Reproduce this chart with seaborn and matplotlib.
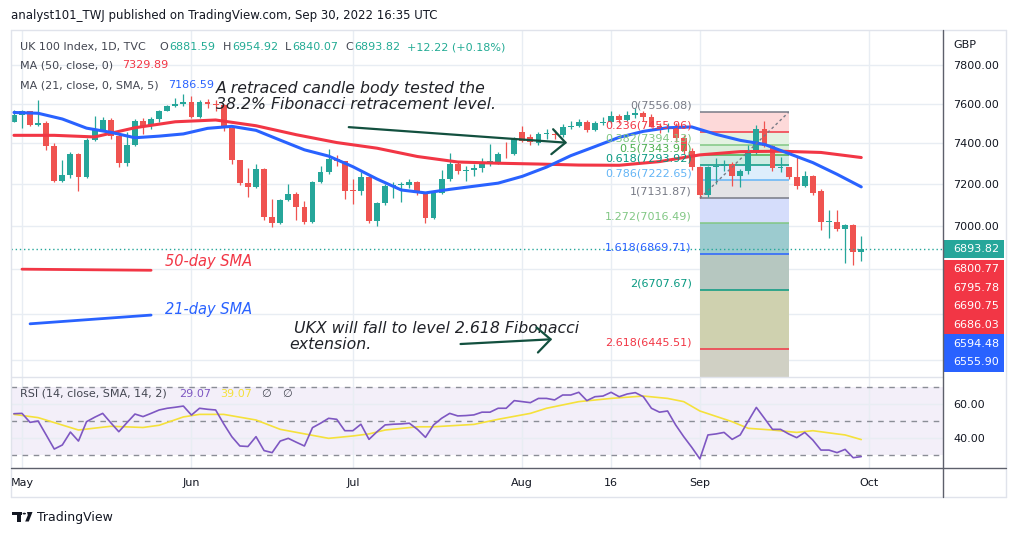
import numpy as np
import pandas as pd
import seaborn as sns
import matplotlib
matplotlib.use("Agg")
from matplotlib import pyplot as plt
from matplotlib.patches import Rectangle, Polygon, Circle
from matplotlib.lines import Line2D
from matplotlib.ticker import NullLocator, NullFormatter

sns.set_theme(style="white")
plt.rcParams["font.family"] = ["DejaVu Sans"]

# UK 100 daily bars, 29 Apr 2022 .. 30 Sep 2022 (one entry per trading day)
opens = [7509, 7544.55, 7561.33, 7493.45, 7503.27, 7387.94, 7216.58, 7243.22, 7347.66, 7233.34,
         7418.15, 7464.80, 7518.35, 7438.09, 7302.74, 7389.98, 7513.44, 7484.35, 7522.75, 7564.92,
         7585.46, 7600.06, 7607.66, 7532.95, 7608.22, 7598.93, 7593.00, 7476.21, 7317.52, 7205.81,
         7187.46, 7273.41, 7044.98, 7016.25, 7121.81, 7152.05, 7089.22, 7020.45, 7208.81, 7258.32,
         7323.41, 7312.32, 7169.28, 7168.65, 7232.65, 7025.47, 7107.77, 7189.08, 7196.24, 7196.59,
         7209.86, 7156.37, 7039.81, 7159.01, 7223.24, 7296.28, 7264.31, 7270.51, 7276.37, 7306.28,
         7306.30, 7348.34, 7345.31, 7455.00, 7430.00, 7400.00, 7445.68, 7448.06, 7439.74, 7482.37,
         7488.15, 7507.11, 7465.91, 7500.89, 7509.15, 7536.06, 7515.75, 7541.85, 7550.37, 7533.79,
         7488.11, 7471.51, 7479.74, 7427.31, 7361.63, 7284.15, 7148.50, 7281.19, 7287.43, 7300.44,
         7237.83, 7262.06, 7351.07, 7473.03, 7385.86, 7277.30, 7282.07, 7236.68, 7192.66, 7237.64,
         7168.00, 7018.60, 7020.95, 6984.59, 7005.39, 6881.59]
highs = [7570, 7570, 7565, 7620, 7510, 7400, 7320, 7355, 7352, 7428,
         7535, 7530, 7525, 7445, 7455, 7520, 7525, 7530, 7570, 7595,
         7630, 7650, 7640, 7620, 7622, 7620, 7600, 7480, 7320, 7280,
         7300, 7278, 7130, 7130, 7200, 7160, 7118, 7215, 7290, 7370,
         7340, 7315, 7225, 7260, 7240, 7115, 7200, 7210, 7210, 7225,
         7215, 7160, 7165, 7270, 7350, 7310, 7290, 7300, 7330, 7395,
         7355, 7405, 7430, 7485, 7445, 7455, 7470, 7465, 7495, 7510,
         7520, 7515, 7510, 7530, 7560, 7545, 7560, 7580, 7560, 7545,
         7500, 7500, 7500, 7440, 7375, 7290, 7290, 7330, 7320, 7310,
         7275, 7390, 7490, 7510, 7390, 7335, 7285, 7335, 7262, 7245,
         7175, 7075, 7075, 7010, 7010, 6954.92]
lows = [7505, 7478, 7485, 7485, 7365, 7210, 7212, 7230, 7165, 7230,
        7412, 7460, 7420, 7285, 7290, 7385, 7445, 7470, 7505, 7560,
        7585, 7590, 7525, 7525, 7580, 7565, 7460, 7300, 7195, 7140,
        7180, 7030, 6995, 7010, 7120, 7030, 7010, 7015, 7205, 7250,
        7290, 7130, 7107, 7150, 7015, 7000, 7100, 7135, 7115, 7180,
        7150, 7015, 7035, 7155, 7215, 7250, 7215, 7240, 7260, 7290,
        7300, 7330, 7340, 7405, 7390, 7390, 7420, 7420, 7430, 7470,
        7480, 7455, 7460, 7490, 7500, 7500, 7510, 7525, 7510, 7480,
        7450, 7455, 7405, 7345, 7270, 7135, 7140, 7200, 7265, 7190,
        7185, 7250, 7345, 7380, 7263, 7260, 7225, 7178, 7185, 7150,
        6980, 6945, 6975, 6830, 6820, 6840.07]
closes = [7544.55, 7561.33, 7493.45, 7503.27, 7387.94, 7216.58, 7243.22, 7347.66, 7233.34, 7418.15,
          7464.80, 7518.35, 7438.09, 7302.74, 7389.98, 7513.44, 7484.35, 7522.75, 7564.92, 7585.46,
          7600.06, 7607.66, 7532.95, 7608.22, 7598.93, 7593.00, 7476.21, 7317.52, 7205.81, 7187.46,
          7273.41, 7044.98, 7016.25, 7121.81, 7152.05, 7089.22, 7020.45, 7208.81, 7258.32, 7323.41,
          7312.32, 7169.28, 7168.65, 7232.65, 7025.47, 7107.77, 7189.08, 7196.24, 7196.59, 7209.86,
          7156.37, 7039.81, 7159.01, 7223.24, 7296.28, 7264.31, 7270.51, 7276.37, 7306.28, 7306.30,
          7348.34, 7345.31, 7423.43, 7413.42, 7409.11, 7445.68, 7448.06, 7439.74, 7482.37, 7488.15,
          7507.11, 7465.91, 7500.89, 7509.15, 7536.06, 7515.75, 7541.85, 7550.37, 7533.79, 7488.11,
          7471.51, 7479.74, 7427.31, 7361.63, 7284.15, 7148.50, 7281.19, 7287.43, 7300.44, 7237.83,
          7262.06, 7351.07, 7473.03, 7385.86, 7277.30, 7282.07, 7236.68, 7192.66, 7237.64, 7159.52,
          7018.60, 7020.95, 6984.59, 7005.39, 6881.59, 6893.82]

month_ticks = [1, 22, 42, 63, 74, 85, 106]
month_labels = ["May", "Jun", "Jul", "Aug", "16", "Sep", "Oct"]

ma50_bar = list(range(0, 106, 5))
ma50_val = [7440, 7440, 7432, 7478, 7508, 7517, 7488, 7443, 7404, 7376, 7335,
            7308, 7302, 7298, 7293, 7292, 7310, 7343, 7359, 7361, 7355, 7330]
ma21_bar = list(range(0, 106, 3))
ma21_val = [7555, 7551, 7522, 7476, 7455, 7428, 7436, 7447, 7475, 7485, 7465, 7416,
            7368, 7337, 7285, 7225, 7172, 7158, 7175, 7190, 7205, 7238, 7283, 7339,
            7384, 7430, 7460, 7478, 7482, 7445, 7415, 7395, 7350, 7305, 7248, 7187]

rsi_val = [54.3, 54.5, 49.2, 50.0, 41.8, 33.5, 35.9, 43.5, 38.2, 49.6,
           52.2, 54.5, 49.0, 43.7, 49.0, 54.1, 52.6, 54.5, 56.5, 57.5,
           58.1, 58.8, 53.5, 57.5, 56.9, 56.5, 48.3, 40.8, 35.3, 35.0,
           40.8, 32.6, 31.4, 38.2, 39.8, 37.5, 35.3, 46.1, 48.7, 51.6,
           51.0, 44.3, 44.3, 48.1, 39.2, 43.7, 47.7, 48.1, 48.3, 48.7,
           45.1, 40.4, 47.7, 51.6, 54.5, 53.0, 53.2, 53.6, 55.2, 55.2,
           57.5, 57.5, 62.0, 61.4, 60.8, 63.3, 63.3, 62.4, 65.3, 65.3,
           66.9, 62.0, 64.3, 64.7, 66.9, 64.3, 65.9, 66.7, 64.3, 57.5,
           55.2, 55.9, 47.7, 40.8, 34.5, 27.7, 41.8, 42.4, 43.3, 39.2,
           41.8, 50.0, 58.0, 51.6, 45.1, 45.1, 42.4, 40.2, 43.3, 38.8,
           32.9, 32.9, 31.4, 33.3, 28.4, 29.07]
rsi_ma_bar = [0, 3, 8, 12, 16, 18, 21, 23, 26, 30, 33, 39, 42, 44, 46, 50, 52, 57,
              60, 64, 66, 70, 74, 78, 81, 83, 85, 89, 91, 94, 97, 99, 102, 103, 105]
rsi_ma_val = [53.9, 52.0, 44.7, 46.9, 46.2, 47.5, 52.4, 53.9, 53.9, 50.6, 45.1, 39.8,
              41.2, 42.4, 44.7, 46.6, 46.6, 48.0, 51.0, 54.5, 57.5, 61.4, 63.3, 64.7,
              63.3, 61.4, 55.9, 49.6, 45.7, 44.7, 43.3, 44.3, 42.4, 41.8, 39.07]

fib_ratio = [0, 0.236, 0.382, 0.5, 0.618, 0.786, 1, 1.272, 1.618, 2, 2.618]
fib_price = [7556.08, 7455.96, 7394.13, 7343.97, 7293.92, 7222.65, 7131.87,
             7016.49, 6869.71, 6707.67, 6445.51]
fib_line_color = ["#787b86", "#f23645", "#81c784", "#4caf50", "#089981", "#64b5f6",
                  "#787b86", "#81c784", "#2962ff", "#089981", "#f23645"]
fib_band_color = ["#fdd9d9", "#e4f2e2", "#d9eedb", "#cdebe3", "#ddeefc", "#e3e3e6",
                  "#d5ddfb", "#9ccbcf", "#b6c7c0", "#cfd1af", "#d0d0c4"]
fib_start, fib_end = 85, 96

sma50_seg_bar, sma50_seg = [1, 17], [6800.77, 6795.78]
sma21_seg_bar, sma21_seg = [2, 17], [6555.90, 6594.48]

tag_price = [6893.82, 6800.77, 6795.78, 6690.75, 6686.03, 6594.48, 6555.90]
tag_color = ["#26a69a", "#f23645", "#f23645", "#f23645", "#f23645", "#2962ff", "#2962ff"]

price_grid = [6400, 6600, 6800, 7000, 7200, 7400, 7600, 7800]

UP, DOWN = "#26a69a", "#ef5350"
GRID = "#e8edf3"
TXT = "#131722"
W, H = 1018, 536


def fx(x):
    return x / W


def fy(y):
    return 1 - y / H


fig = plt.figure(figsize=(W / 100, H / 100), dpi=100)
fig.patch.set_facecolor("white")
ax = fig.add_axes([fx(11), fy(377), fx(943) - fx(11), fy(30) - fy(377)])
ax_rsi = fig.add_axes([fx(11), fy(468), fx(943) - fx(11), fy(377) - fy(468)], sharex=ax)

# ---- price pane ----
df = pd.DataFrame({"open": opens, "high": highs, "low": lows, "close": closes})
df["bar"] = np.arange(len(df))
df["color"] = np.where(df["close"] >= df["open"], UP, DOWN)

ax.set_yscale("log")
ax.set_xlim(-0.36, 115.13)
ax.set_ylim(6326, 7985)

# fibonacci box
lows_band = fib_price[1:] + [6000]
for hi, lo, c in zip(fib_price, lows_band, fib_band_color):
    ax.fill_between([fib_start, fib_end], lo, hi, color=c, lw=0, zorder=1)
for r, p, c in zip(fib_ratio, fib_price, fib_line_color):
    ax.hlines(p, fib_start, fib_end, color=c, lw=1.1, zorder=2)
    ax.annotate(f"{r:g}({p:.2f})", (fib_start, p), xytext=(-6, 1), textcoords="offset points",
                ha="right", va="bottom", color=c, fontsize=8, zorder=6)
ax.plot([fib_start, fib_end], [fib_price[6], fib_price[0]], color="#787b86", lw=1,
        ls=(0, (2, 2)), zorder=5)

ax.vlines(df["bar"], df["low"], df["high"], colors=df["color"], lw=0.9, zorder=3)
body_lo = df[["open", "close"]].min(axis=1)
body_h = (df["close"] - df["open"]).abs().clip(lower=4.5)
ax.bar(df["bar"], body_h, bottom=body_lo, width=0.72, color=df["color"], linewidth=0, zorder=3)

sns.lineplot(x=ma50_bar, y=ma50_val, ax=ax, color="#f23645", lw=2.2, zorder=4)
sns.lineplot(x=ma21_bar, y=ma21_val, ax=ax, color="#2962ff", lw=2.2, zorder=4)

ax.axhline(closes[-1], color=UP, lw=1, ls=(0, (1, 2)), zorder=4)

# hand drawn notes
ax.plot(sma50_seg_bar, sma50_seg, color="#f23645", lw=2, zorder=5)
ax.plot(sma21_seg_bar, sma21_seg, color="#2962ff", lw=2, zorder=5)
ax.text(18.7, 6838, "50-day SMA", color="#f23645", fontsize=10.5, style="italic",
        ha="left", va="center", zorder=7)
ax.text(18.7, 6617, "21-day SMA", color="#2962ff", fontsize=10.5, style="italic",
        ha="left", va="center", zorder=7)
ax.text(25.0, 7637, "A retraced candle body tested the\n38.2% Fibonacci retracement level.",
        color="#202228", fontsize=11.3, style="italic", ha="left", va="center",
        linespacing=1.1, zorder=7)
ax.text(34.1, 6502, " UKX will fall to level 2.618 Fibonacci\nextension.",
        color="#202228", fontsize=11.3, style="italic", ha="left", va="center",
        linespacing=1.1, zorder=7)
arrow = dict(arrowstyle="->,head_length=0.8,head_width=0.75", color="#12503f", lw=1.6)
ax.annotate("", xy=(68.9, 7402), xytext=(41.15, 7482), arrowprops=arrow, zorder=7)
ax.annotate("", xy=(67.05, 6489), xytext=(55.0, 6467), arrowprops=arrow, zorder=7)

ax.set_xticks(month_ticks)
ax.set_yticks(price_grid)
ax.set_yticklabels([f"{p:.2f}" for p in price_grid])
ax.yaxis.set_minor_locator(NullLocator())
ax.yaxis.set_minor_formatter(NullFormatter())
ax.yaxis.tick_right()
ax.tick_params(axis="y", length=0, pad=7.2, labelsize=8, labelcolor=TXT)
ax.tick_params(axis="x", length=0, labelbottom=False)
ax.grid(True, color=GRID, lw=1)
ax.set_xlabel("")
ax.set_ylabel("")
for s in ax.spines.values():
    s.set_visible(False)

# ---- RSI pane ----
bars = np.arange(len(rsi_val))
ax_rsi.set_ylim(22.35, 75.9)
ax_rsi.axhspan(30, 70, color="#7e57c2", alpha=0.09, lw=0, zorder=0)
for lvl in (70, 50, 30):
    ax_rsi.axhline(lvl, color="#8a8d96", lw=1, ls=(0, (4, 4)), zorder=1)
sns.lineplot(x=rsi_ma_bar, y=rsi_ma_val, ax=ax_rsi, color="#f5e13b", lw=1.2, zorder=3)
sns.lineplot(x=bars, y=rsi_val, ax=ax_rsi, color="#7e57c2", lw=1.2, zorder=4)
ax_rsi.set_yticks([40, 60])
ax_rsi.set_yticklabels(["40.00", "60.00"])
ax_rsi.yaxis.tick_right()
ax_rsi.tick_params(axis="y", length=0, pad=7.2, labelsize=8, labelcolor=TXT)
ax_rsi.set_xticks(month_ticks)
ax_rsi.set_xticklabels(month_labels)
ax_rsi.tick_params(axis="x", length=0, pad=7.5, labelsize=8, labelcolor=TXT)
ax_rsi.grid(True, color=GRID, lw=1)
ax_rsi.set_xlabel("")
ax_rsi.set_ylabel("")
for s in ax_rsi.spines.values():
    s.set_visible(False)

# ---- frame ----
def hline(y, x0, x1, color, lw=1.0):
    fig.add_artist(Line2D([fx(x0), fx(x1)], [fy(y), fy(y)], color=color, lw=lw))


def vline(x, y0, y1, color, lw=1.0):
    fig.add_artist(Line2D([fx(x), fx(x)], [fy(y0), fy(y1)], color=color, lw=lw))


LIGHT = "#e0e3eb"
hline(30, 11, 1006, LIGHT)
hline(497, 11, 1006, LIGHT)
vline(11, 30, 497, LIGHT)
vline(1006, 30, 497, LIGHT)
hline(377, 11, 943, LIGHT)
hline(468, 11, 1006, "#5d606b")
vline(943, 30, 497, "#5d606b")

# ---- price tags on the right scale ----
tag_py = []
for p in tag_price:
    py = H - ax.transData.transform((0, p))[1]
    if tag_py:
        py = max(py, tag_py[-1] + 18.6)
    tag_py.append(py)
for p, py, c in zip(tag_price, tag_py, tag_color):
    fig.add_artist(Rectangle((fx(943), fy(py + 9.4)), 61 / W, 18.8 / H, color=c, lw=0,
                             transform=fig.transFigure))
    fig.text(fx(953), fy(py), f"{p:.2f}", color="white", fontsize=8, va="center", ha="left")
fig.text(fx(953), fy(45), "GBP", color=TXT, fontsize=8, va="center", ha="left")

# ---- legends ----
renderer = fig.canvas.get_renderer()


def rich_text(x_px, y_px, parts, size=8):
    x = x_px
    for s, c, gap in parts:
        t = fig.text(fx(x), fy(y_px), s, color=c, fontsize=size, va="center", ha="left")
        x += t.get_window_extent(renderer).width + gap


LEG = "#434651"
TEAL = "#22ab94"
rich_text(20, 47, [("UK 100 Index, 1D, TVC", LEG, 14), ("O", LEG, 1), ("6881.59", TEAL, 7),
                   ("H", LEG, 1), ("6954.92", TEAL, 7), ("L", LEG, 1), ("6840.07", TEAL, 7),
                   ("C", LEG, 1), ("6893.82", TEAL, 7), ("+12.22 (+0.18%)", TEAL, 0)])
rich_text(20, 65, [("MA (50, close, 0)", LEG, 9), ("7329.89", "#f23645", 0)])
rich_text(20, 85, [("MA (21, close, 0, SMA, 5)", LEG, 9), ("7186.59", "#2962ff", 0)])
rich_text(20, 394, [("RSI (14, close, SMA, 14, 2)", LEG, 12), ("29.07", "#7e57c2", 9),
                    ("39.07", "#f5e13b", 9), ("\u2205", LEG, 12), ("\u2205", LEG, 0)])

fig.text(fx(11), fy(15), "analyst101_TWJ published on TradingView.com, Sep 30, 2022 16:35 UTC",
         color=TXT, fontsize=8.5, va="center", ha="left")

# ---- TradingView logo ----
def fpoly(pts, **kw):
    fig.add_artist(Polygon([(fx(a), fy(b)) for a, b in pts], closed=True,
                           transform=fig.transFigure, **kw))


fpoly([(12, 512), (22, 512), (22, 515), (20.5, 515), (20.5, 521.5), (17, 521.5), (17, 515), (12, 515)],
      color=TXT, lw=0)
fig.add_artist(Circle((fx(24.3), fy(513.6)), 1.7 / W, transform=fig.transFigure, color=TXT, lw=0))
fpoly([(27, 512), (32.5, 512), (28.8, 521.5), (25.2, 521.5), (27.8, 515.2)], color=TXT, lw=0)
fig.text(fx(37), fy(517), "TradingView", color=TXT, fontsize=9, va="center", ha="left")

fig.savefig("out.png", dpi=100)
